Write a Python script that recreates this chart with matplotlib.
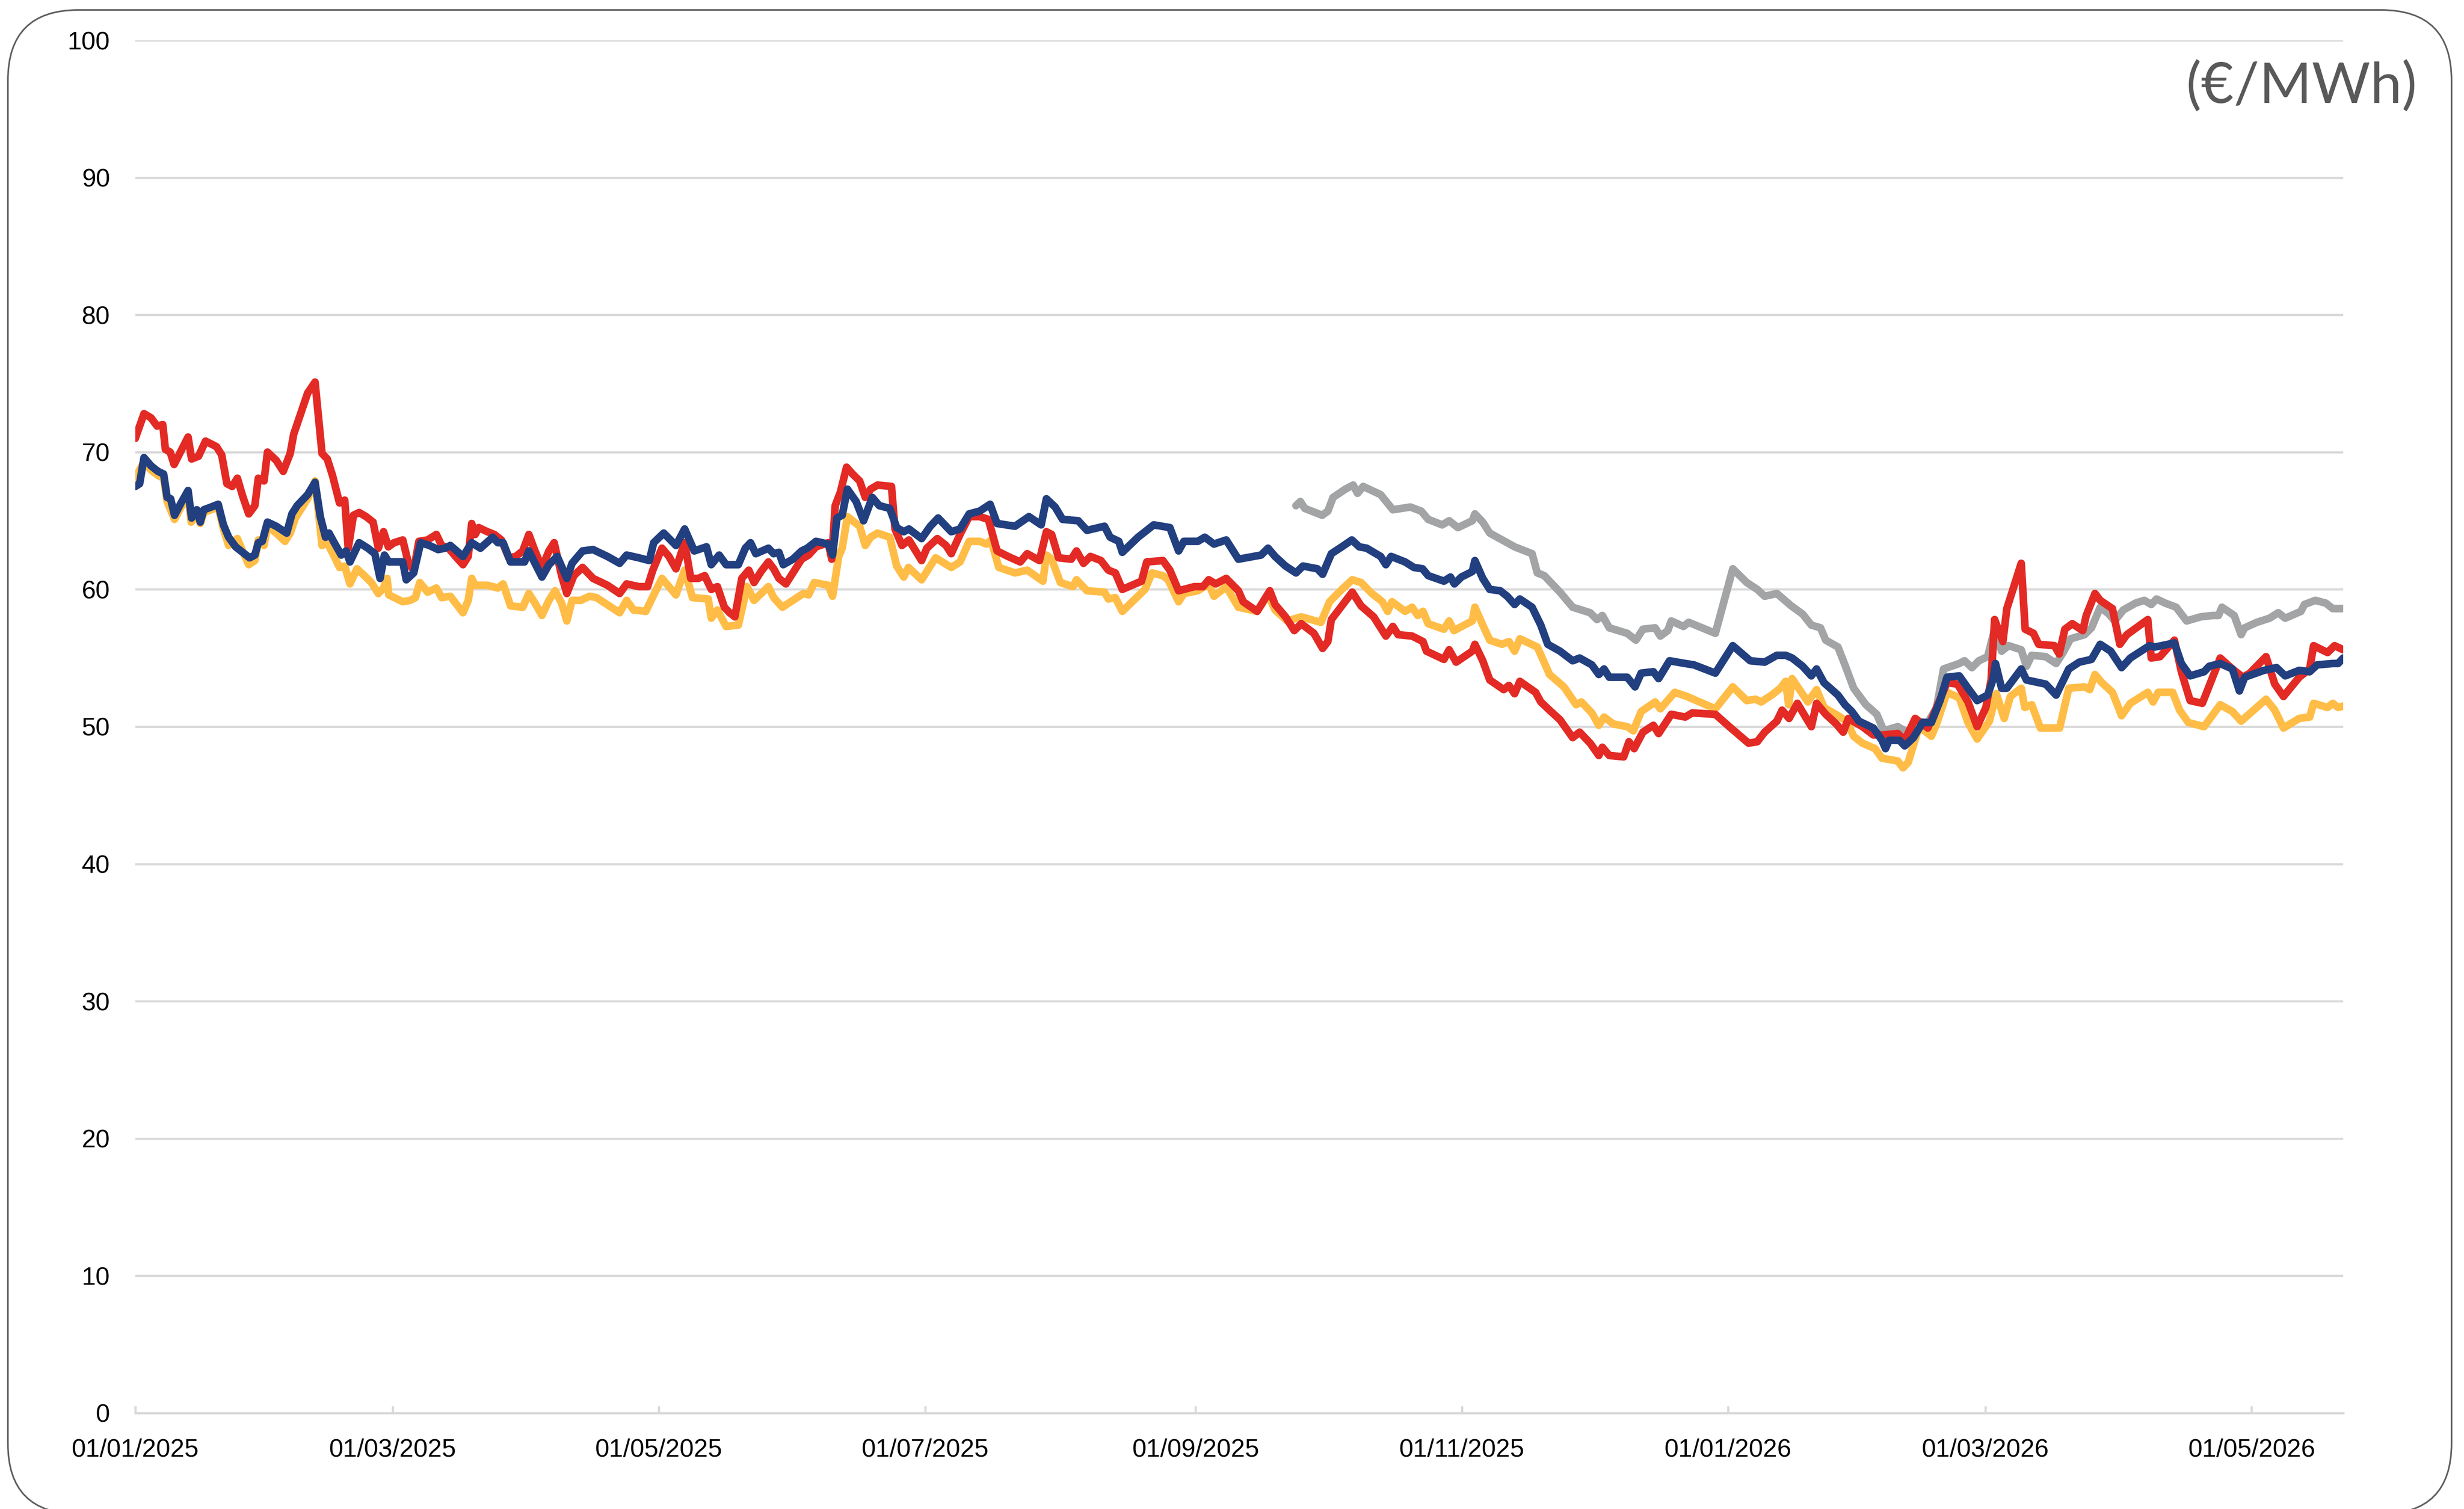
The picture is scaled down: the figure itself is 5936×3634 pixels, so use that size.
import matplotlib
matplotlib.use('Agg')
import matplotlib.pyplot as plt
import matplotlib.dates as mdates
from matplotlib.patches import FancyBboxPatch
import pandas as pd

plt.rcParams['font.family'] = ['Liberation Sans', 'DejaVu Sans']

# x values are days counted from 01/01/2025
start = pd.Timestamp('2025-01-01')
end_day = 506

red_day = [0, 2, 3.6, 5, 6.3, 6.9, 8, 8.9, 10.5, 12.1, 12.9, 14.5, 16.1, 18.6, 19.8, 21, 22.2, 23.4, 24.6, 26, 27.4, 28.2, 29.5, 30.3, 32.3, 33.9, 35.5, 36.3, 37.9, 39.5, 41.2, 42.8, 44, 45.2, 46.8, 48, 48.8, 50, 51.3, 52.9, 54.5, 55.7, 56.9, 58, 59.3, 61.3, 62.6, 63.8, 65, 67, 69, 70.2, 71.8, 73.4, 75.1, 76.3, 77.1, 77.9, 78.7, 80.7, 82.3, 83.9, 85.6, 87.2, 88.8, 90.2, 91.6, 93.2, 94.8, 96, 97.7, 98.9, 100.5, 102.5, 104.9, 108.2, 111, 112.6, 115.4, 117.4, 118.6, 120.7, 122.3, 123.9, 125.9,
           127.3, 129, 130.5, 132, 133.4, 135, 136.2, 137.4, 139, 140.6, 141.8, 143.4, 145.1, 146.3, 147.5, 149.1, 150.7, 152.7, 154.3, 156, 158.8, 159.6, 160.4, 161.6, 163, 164.4, 166, 167.3, 168.5, 170.1, 173.3, 174.1, 175.7, 177.3, 180.2, 181.4, 183.8, 185.8, 187, 189, 191.1, 193.5, 195.5, 197.5, 200, 202.8, 204.4, 207.2, 208.8, 210, 211.6, 214.5, 215.7, 217.3, 218.9, 221.3, 223, 224.6, 226.2, 230.6, 231.8, 235.5, 237.1, 239.1, 242.7, 244.7, 246, 247.6, 250, 252.8,
           253.9, 257.1, 260, 261.2, 263.6, 265.6, 267.2, 270.1, 272.1, 273.3, 274.1, 276.5, 278.9, 280.9, 283.8, 286.6, 288.2, 289.4, 292.6, 295.1, 295.9, 299.9, 301.1, 302.7, 306.4, 307, 308.8, 310.4, 313.6, 314.8, 316.1, 317.3, 320.9, 322.1, 324.1, 326.5, 329.4, 331, 333.4, 335.4, 336.2, 337.8, 341.1, 342.3, 343.5, 345.5, 347.9, 349.1, 352, 355.2, 356.8, 362.1, 365.3, 369.7, 371.7, 373.4, 376.2, 377.4, 379,
           380.9, 384.1, 385.3, 387.4, 389.8, 391.4, 392.6, 395.8, 398.3, 400.7, 403.9, 405.5, 407.9, 410.8, 413.6, 415.2, 417.6, 420, 422.1, 424.1, 425.3, 426.1, 428, 428.9, 432.2, 433.1, 435, 436.2, 439.8, 440.9, 442.2, 443.9, 446.3, 447.1, 449.1, 450.3, 453.1, 454.8, 456.4, 461.2, 462, 464, 467.3, 468.9, 470.9, 473.7, 477.8, 480.6, 483, 484.6, 488.3, 490.3, 492.3, 495.9, 498.3, 499.2, 502.4, 504, 506]
red_val = [71.0, 72.8, 72.5, 71.9, 72.0, 70.2, 70.0, 69.1, 70.1, 71.1, 69.5, 69.7, 70.8, 70.4, 69.8, 67.7, 67.5, 68.1, 66.8, 65.5, 66.1, 68.1, 67.9, 70.0, 69.4, 68.6, 69.9, 71.3, 72.8, 74.3, 75.1, 69.9, 69.5, 68.3, 66.3, 66.5, 63.0, 65.4, 65.6, 65.3, 64.9, 63.0, 64.2, 63.1, 63.4, 63.6, 61.9, 61.4, 63.5, 63.6, 64.0, 63.2, 63.0, 62.4, 61.8, 62.4, 64.8, 64.0, 64.5, 64.2, 64.0, 63.6, 62.3, 62.4, 62.8, 64.0, 62.8, 61.6, 62.8, 63.4, 61.0, 59.7, 61.0, 61.6, 60.8, 60.3, 59.7, 60.4, 60.2, 60.2, 61.4, 63.0, 62.4, 61.5, 63.4,
           60.8, 60.8, 61.0, 60.0, 60.2, 58.7, 58.3, 58.0, 60.8, 61.4, 60.5, 61.3, 62.0, 61.5, 60.8, 60.4, 61.2, 62.2, 62.5, 63.1, 63.4, 62.2, 66.1, 67.1, 68.9, 68.4, 67.9, 66.7, 67.3, 67.6, 67.5, 64.4, 63.2, 63.6, 62.1, 63.0, 63.7, 63.2, 62.6, 64.0, 65.3, 65.3, 65.1, 62.8, 62.4, 62.0, 62.6, 62.1, 64.2, 64.0, 62.3, 62.2, 62.8, 61.9, 62.4, 62.1, 61.4, 61.2, 60.0, 60.6, 62.0, 62.1, 61.4, 59.9, 60.2, 60.2, 60.7, 60.4, 60.8, 59.9,
           59.1, 58.4, 59.9, 58.9, 58.0, 57.0, 57.5, 56.8, 55.7, 56.2, 57.8, 58.8, 59.8, 58.8, 58.0, 56.6, 57.3, 56.7, 56.6, 56.2, 55.5, 54.9, 55.6, 54.7, 55.5, 56.0, 54.8, 53.4, 52.7, 53.0, 52.4, 53.3, 52.5, 51.8, 51.2, 50.5, 49.2, 49.6, 48.8, 47.9, 48.5, 47.9, 47.8, 48.9, 48.4, 49.6, 50.1, 49.5, 50.9, 50.7, 51.0, 50.9, 50.0, 48.8, 48.9, 49.6, 50.4, 51.2, 50.6,
           51.7, 50.0, 51.7, 50.9, 50.2, 49.6, 50.6, 50.0, 49.4, 49.4, 49.5, 49.0, 50.6, 49.9, 52.0, 53.2, 53.1, 51.8, 50.0, 51.4, 53.4, 57.8, 56.2, 58.6, 61.9, 57.1, 56.8, 56.0, 55.9, 55.3, 57.1, 57.5, 57.0, 58.1, 59.7, 59.2, 58.6, 56.0, 56.7, 57.8, 55.0, 55.1, 56.3, 54.0, 51.9, 51.7, 55.0, 54.2, 53.6, 53.9, 55.1, 53.1, 52.2, 53.6, 54.2, 55.9, 55.4, 55.9, 55.6]

navy_day = [0, 1, 2, 3.6, 5.2, 6.5, 7.3, 8.1, 9, 10.5, 12.1, 12.9, 14.1, 14.9, 15.7, 17.4, 19, 20.2, 21.4, 23, 24.6, 26.2, 27.4, 28.2, 29.1, 30.3, 32.3, 34.7, 35.9, 37.1, 39.5, 41.2, 42.4, 43.6, 44.4, 45.6, 47.2, 48.3, 49.2, 51.3, 53.3, 54.9, 56.1, 57.1, 58.1, 61.3, 62.1, 63.8, 65.4, 67.4, 69.4, 71, 72.2, 75.1, 77.1, 79.1, 81.9, 83.1, 84.3, 86, 89.2, 90.2, 91.6, 93.2, 94.8, 96.7, 98.9, 100.1, 102.5, 104.9, 108.2, 111, 112.6, 115.4, 117.8, 118.8, 121.1, 123.9, 125.9,
            128.1, 130.9, 132, 133.8, 135.4, 138.2, 139.8, 141, 142.2, 145.1, 146.3, 147.5, 148.5, 150.7, 152.7, 154, 156, 158.8, 159.8, 160.8, 162, 163.2, 165.2, 166.9, 168.9, 170.5, 172.9, 174.5, 176.1, 177.3, 180.2, 182.2, 184, 187, 189, 191.1, 193.5, 195.9, 197.5, 201.6, 204.8, 207.6, 208.8, 210.8, 212.5, 216.1, 218.1, 222.1, 223.4, 225.4, 226.2, 229.8, 231.4, 233.4, 237.1, 239.1, 240.3, 243.5, 245.1, 247.2, 250, 252.8,
            258, 259.6, 261.2, 263.6, 266, 267.6, 270.9, 272.1, 274.1, 276.5, 278.8, 280.5, 282.2, 285.4, 286.6, 287.8, 291, 293, 295, 296.3, 299.9, 301.4, 302.3, 303.9, 306.4, 307, 308.8, 310.4, 312.8, 314.4, 316.1, 317.3, 320.1, 322.1, 323.7, 326.5, 329.4, 331, 333.8, 335.4, 336.6, 337.8, 341.9, 343.7, 345.1, 347.9, 349.1, 351.6, 355.2, 357.2, 362.1, 366.1, 370.1, 373.4, 376.2, 378.2,
            379.7, 382.1, 384.1, 385.3, 387, 390.2, 391.8, 393.4, 395, 398.3, 400.3, 401.1, 401.9, 404.3, 405.5, 407.5, 409.6, 411.6, 413.6, 415.2, 418, 420, 422.1, 424.5, 425.7, 426.3, 427.7, 428.9, 432.2, 433.4, 437.8, 440.2, 443.1, 445.5, 448.3, 450.3, 452.7, 455.2, 457.2, 461.6, 462.8, 464.4, 467.3, 468.9, 470.9, 474.1, 475.3, 477.8, 480.6, 482.2, 483.4, 487.8, 490.7, 492.7, 495.9, 498.3, 500, 503.6, 504.8, 506]
navy_val = [67.5, 67.7, 69.6, 69.0, 68.6, 68.4, 66.7, 66.6, 65.4, 66.3, 67.2, 65.2, 65.8, 64.9, 65.8, 66.0, 66.2, 64.7, 63.8, 63.1, 62.7, 62.3, 62.5, 63.4, 63.5, 64.9, 64.6, 64.1, 65.5, 66.1, 66.9, 67.8, 65.3, 63.8, 64.1, 63.4, 62.5, 62.8, 62.0, 63.4, 63.0, 62.6, 60.8, 62.5, 62.0, 62.0, 60.7, 61.2, 63.4, 63.2, 62.9, 63.0, 63.2, 62.4, 63.4, 63.0, 63.8, 63.4, 63.4, 62.0, 62.0, 62.8, 61.9, 60.9, 61.8, 62.4, 60.8, 61.9, 62.8, 62.9, 62.4, 61.9, 62.5, 62.3, 62.1, 63.4, 64.1, 63.2, 64.4,
            62.8, 63.1, 61.8, 62.5, 61.8, 61.8, 63.0, 63.4, 62.6, 63.0, 62.6, 62.7, 61.8, 62.2, 62.8, 63.0, 63.5, 63.3, 62.5, 65.2, 65.4, 67.3, 66.4, 65.0, 66.7, 66.1, 65.9, 64.5, 64.2, 64.4, 63.7, 64.6, 65.2, 64.2, 64.4, 65.5, 65.7, 66.2, 64.8, 64.6, 65.3, 64.7, 66.6, 66.0, 65.1, 65.0, 64.3, 64.6, 63.8, 63.5, 62.7, 63.8, 64.2, 64.7, 64.5, 62.8, 63.5, 63.5, 63.8, 63.3, 63.6, 62.2,
            62.5, 63.0, 62.4, 61.7, 61.2, 61.7, 61.5, 61.1, 62.6, 63.1, 63.6, 63.1, 63.0, 62.4, 61.8, 62.4, 62.0, 61.6, 61.5, 61.0, 60.6, 60.9, 60.4, 60.9, 61.3, 62.1, 60.8, 60.0, 59.9, 59.5, 58.9, 59.3, 58.7, 57.4, 56.0, 55.5, 54.8, 55.0, 54.5, 53.8, 54.2, 53.6, 53.6, 52.9, 53.9, 54.0, 53.5, 54.8, 54.6, 54.5, 53.9, 55.9, 54.8, 54.7, 55.2, 55.2,
            55.0, 54.4, 53.7, 54.2, 53.2, 52.3, 51.6, 51.1, 50.4, 49.9, 49.0, 48.4, 49.0, 49.0, 48.6, 49.2, 50.3, 50.3, 51.9, 53.6, 53.7, 52.8, 51.9, 52.3, 53.4, 54.6, 52.8, 52.8, 54.2, 53.4, 53.1, 52.3, 54.2, 54.7, 54.9, 56.0, 55.5, 54.3, 55.0, 55.9, 55.8, 55.9, 56.1, 54.6, 53.7, 54.0, 54.4, 54.6, 54.2, 52.6, 53.6, 54.1, 54.3, 53.7, 54.1, 54.0, 54.5, 54.6, 54.6, 55.0]

yellow_day = [0, 2, 3.6, 5.2, 6.5, 7.3, 9, 10.5, 12.1, 12.8, 14.1, 14.9, 15.7, 19, 20.2, 21.4, 23.4, 24.6, 26, 27.4, 28.2, 29.5, 30.3, 32.3, 34.3, 35.5, 36.7, 39.5, 41.2, 42.8, 44, 45.6, 46.8, 48, 49.2, 50.8, 52.5, 54.1, 55.7, 56.9, 57.7, 58.1, 61.3, 63, 64.2, 65.2, 67, 69, 70.2, 72.2, 73.4, 75.1, 76.3, 77.1, 77.9, 80.7, 83.1, 84.3, 86, 88.8, 90.2, 91.6, 93.2, 94.8, 96.2, 97.7, 98.9, 100.1, 102.1, 104.1, 105.7, 108.6, 111, 112.6, 114.2, 117, 118.2, 120.7, 123.9, 125.9,
              127.7, 131.3, 132, 133.4, 135.4, 138.2, 140.2, 141.8, 145.1, 146.3, 148.3, 150.7, 153.1, 154.3, 155.6, 158.8, 159.8, 161.2, 162, 163.2, 166, 167.3, 168.5, 170.1, 172.9, 174.5, 176.1, 177.2, 180.2, 183.4, 187, 189, 191.1, 193.5, 195.1, 196.1, 197.9, 201.6, 204.4, 208, 208.8, 210, 212, 214.9, 215.7, 218.1, 222.1, 223, 224.6, 226.2, 231.4, 233, 235.5, 236.7, 239.1, 240.3, 243.5, 246, 247.2, 250, 252.8,
              257.1, 259.6, 261.2, 264, 267.2, 271.7, 273.7, 276.5, 278.9, 280.9, 283.4, 285.8, 287, 288, 291, 292.6, 293.9, 295.1, 296.3, 299.9, 301.1, 302.2, 306.4, 307, 308.8, 310.4, 313.2, 314.8, 316.1, 317.3, 321.3, 324.1, 327.4, 330.2, 331.4, 333.8, 335.4, 336.6, 338.7, 341.9, 343.3, 345.1, 348.3, 349.5, 352.8, 355.6, 362.1, 366.1, 369.3, 371.3, 372.6, 375, 377, 378.2, 378.9,
              379.7, 383.3, 385.3, 387, 390.2, 392.2, 393.8, 395.8, 398.7, 400.3, 403.9, 405.1, 406.3, 408.8, 411.6, 412.8, 415.2, 418, 420, 422.1, 424.9, 426.5, 428.3, 429.7, 432.2, 433, 434.6, 436.6, 441, 443.1, 446.7, 447.9, 449.1, 450.7, 453.1, 455.2, 457.2, 461.2, 462.4, 463.6, 466.9, 468.5, 470.5, 474.1, 477.8, 480.6, 482.6, 488.3, 490.3, 492.3, 495.9, 498.3, 499.2, 502.4, 503.6, 504.8, 506]
yellow_val = [68.1, 69.3, 68.7, 68.3, 68.1, 66.4, 65.1, 66.0, 66.9, 64.9, 65.5, 64.8, 65.6, 66.0, 64.4, 63.2, 63.7, 62.8, 61.8, 62.1, 63.6, 63.2, 64.6, 64.1, 63.5, 64.1, 65.2, 66.6, 67.9, 63.2, 63.4, 62.4, 61.6, 61.7, 60.4, 61.5, 61.0, 60.5, 59.7, 60.1, 60.8, 59.6, 59.1, 59.2, 59.4, 60.5, 59.8, 60.1, 59.4, 59.5, 59.0, 58.3, 59.2, 60.8, 60.3, 60.3, 60.1, 60.4, 58.8, 58.7, 59.7, 59.0, 58.1, 59.2, 59.9, 59.0, 57.7, 59.2, 59.2, 59.5, 59.4, 58.8, 58.3, 59.2, 58.5, 58.4, 59.2, 60.8, 59.6, 61.4,
              59.4, 59.3, 57.9, 58.5, 57.3, 57.4, 60.2, 59.2, 60.2, 59.4, 58.7, 59.2, 59.7, 59.6, 60.5, 60.3, 59.5, 62.4, 63.0, 65.3, 64.6, 63.2, 63.8, 64.1, 63.8, 61.7, 60.9, 61.6, 60.7, 62.3, 61.6, 62.0, 63.5, 63.5, 63.3, 63.6, 61.6, 61.2, 61.4, 60.6, 62.5, 62.2, 60.5, 60.2, 60.7, 59.9, 59.8, 59.3, 59.4, 58.4, 60.0, 61.2, 61.0, 60.7, 59.1, 59.7, 59.9, 60.4, 59.5, 60.2, 58.7,
              58.4, 59.6, 58.5, 57.7, 58.0, 57.6, 59.1, 60.0, 60.7, 60.5, 59.7, 59.1, 58.4, 59.1, 58.4, 58.7, 58.1, 58.4, 57.5, 57.1, 57.7, 57.0, 57.7, 58.7, 57.4, 56.3, 56.0, 56.2, 55.5, 56.4, 55.8, 53.8, 52.9, 51.6, 51.8, 51.0, 50.1, 50.7, 50.2, 50.0, 49.7, 51.1, 51.8, 51.3, 52.5, 52.2, 51.3, 52.9, 51.9, 52.0, 51.8, 52.3, 52.8, 53.3, 51.6,
              53.5, 51.8, 52.7, 51.4, 50.8, 50.4, 49.3, 48.8, 48.4, 47.7, 47.5, 47.0, 47.4, 50.0, 49.3, 50.2, 52.5, 52.1, 50.3, 49.1, 50.4, 52.4, 50.6, 52.2, 52.8, 51.4, 51.6, 49.9, 49.9, 52.8, 52.9, 52.7, 53.8, 53.2, 52.5, 50.8, 51.7, 52.5, 51.8, 52.5, 52.5, 51.2, 50.3, 50.0, 51.6, 51.1, 50.4, 52.0, 51.2, 49.9, 50.6, 50.7, 51.7, 51.4, 51.7, 51.4, 51.5]

gray_day = [266, 267, 268, 272, 273.3, 274.5, 277.3, 279.1, 280.1, 281.4, 285.4, 288.2, 292.2, 294.7, 296.3, 299.5, 301.1, 303.1, 306.4, 307, 308.8, 310.4, 314.4, 316.1, 320.1, 321.3, 322.9, 326.5, 329.4, 333.4, 335, 336.2, 337.8, 341.9, 343.9, 345.5, 348.3, 349.5, 351.2, 352, 354.8, 356, 362.1, 366.1, 369.3, 371.7, 373.4, 376.2, 379.5,
            382.1, 384.1, 386.2, 387.4, 390.2, 391.8, 393.8, 396.6, 399.1, 400.7, 403.9, 405.5, 407.1, 408.3, 410.8, 412.8, 414.4, 418, 419.2, 420.9, 422.5, 424.5, 426.1, 427.7, 429.3, 432.2, 433.4, 434.6, 437.8, 440.2, 441.8, 443.5, 446.7, 448.3, 450.3, 452.3, 453.6, 455.6, 458.4, 460.4, 462, 463.2, 465.2, 467.7, 470.1, 473.3, 476.1, 477.4, 478.2, 481, 482.6, 483.4, 486.2, 489.1, 491.1, 492.7, 496.3, 497.1, 499.6, 502, 503.6, 506]
gray_val = [66.1, 66.4, 65.9, 65.4, 65.7, 66.7, 67.3, 67.6, 67.0, 67.5, 66.9, 65.8, 66.0, 65.7, 65.1, 64.7, 65.0, 64.5, 65.0, 65.5, 64.9, 64.1, 63.4, 63.1, 62.6, 61.2, 61.0, 59.8, 58.7, 58.3, 57.8, 58.1, 57.2, 56.8, 56.3, 57.1, 57.2, 56.6, 57.0, 57.7, 57.3, 57.6, 56.8, 61.5, 60.5, 60.0, 59.5, 59.7, 58.8,
            58.2, 57.4, 57.2, 56.3, 55.8, 54.5, 52.8, 51.6, 50.9, 49.7, 50.0, 49.7, 49.7, 50.4, 50.3, 51.4, 54.2, 54.6, 54.8, 54.3, 54.8, 55.1, 57.1, 55.5, 55.9, 55.6, 54.4, 55.2, 55.1, 54.6, 55.4, 56.4, 56.7, 57.2, 58.7, 58.2, 57.7, 58.5, 59.0, 59.2, 58.9, 59.3, 59.0, 58.7, 57.7, 58.0, 58.1, 58.1, 58.7, 58.1, 56.7, 57.2, 57.6, 57.9, 58.3, 57.9, 58.4, 58.9, 59.2, 59.0, 58.6, 58.6]

y_ticks = list(range(0, 101, 10))
unit_label = '(€/MWh)'


def to_dates(days):
    return start + pd.to_timedelta(days, unit='D')


fig = plt.figure(figsize=(29.68, 18.17), dpi=200)
ax = fig.add_axes([0.0549, 0.0636, 0.8961, 0.9097])

series = [
    (gray_day, gray_val, '#A2A4A5'),
    (yellow_day, yellow_val, '#FFBD47'),
    (red_day, red_val, '#E32A25'),
    (navy_day, navy_val, '#223F7F'),
]
for i, (d, v, c) in enumerate(series):
    ax.plot(to_dates(d), v, color=c, lw=6.6, solid_joinstyle='round',
            solid_capstyle='round', zorder=3 + i)

ax.set_xlim(start, start + pd.Timedelta(days=end_day))
ax.set_ylim(0, 100)
ax.set_yticks(y_ticks)
ax.xaxis.set_major_locator(mdates.MonthLocator(bymonth=[1, 3, 5, 7, 9, 11]))
ax.xaxis.set_major_formatter(mdates.DateFormatter('%d/%m/%Y'))

ax.grid(axis='y', color='#D9D9D9', lw=1.9)
ax.set_axisbelow(True)
for s in ['left', 'right', 'top']:
    ax.spines[s].set_visible(False)
ax.spines['bottom'].set_color('#D9D9D9')
ax.spines['bottom'].set_linewidth(1.9)
ax.tick_params(axis='x', direction='in', length=6, width=1.9, color='#D9D9D9',
               pad=22, labelsize=22, labelcolor='black')
ax.tick_params(axis='y', length=0, pad=22, labelsize=22, labelcolor='black')

fig.text(0.981, 0.9318, unit_label, ha='right', va='baseline', fontsize=49,
         color='#595959', family=['Lato', 'DejaVu Sans'], fontweight='normal')

# rounded frame around the whole picture
frame = FancyBboxPatch((0.095, -0.06), 29.435, 18.11,
                       boxstyle='round,pad=0,rounding_size=0.85',
                       transform=fig.dpi_scale_trans, fill=False,
                       ec='#5F5F5F', lw=1.4, clip_on=False)
fig.add_artist(frame)

fig.savefig('out.png', dpi=200)
